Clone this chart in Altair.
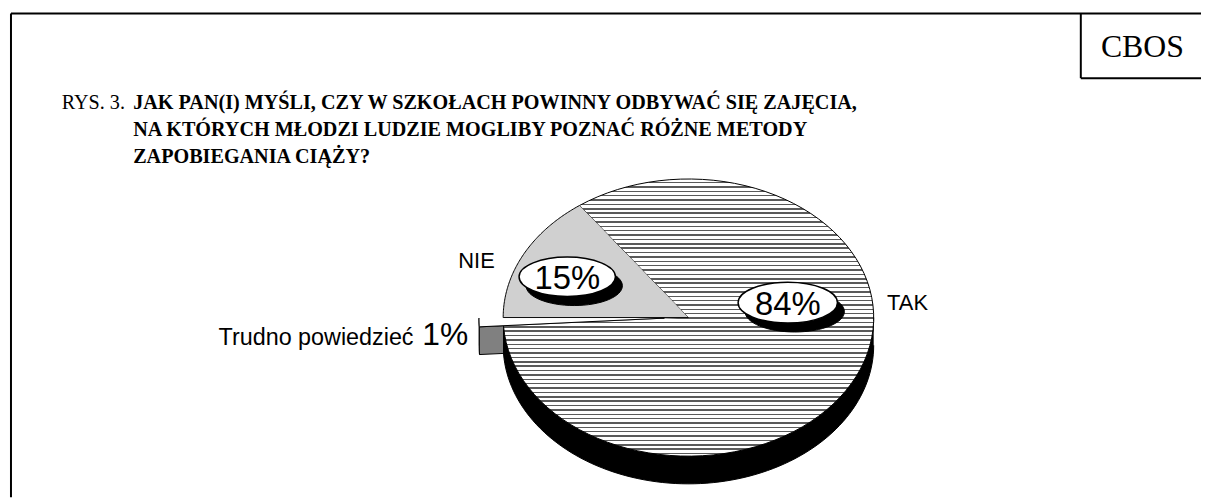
import altair as alt
import pandas as pd

# ---------------- data ----------------
categories = ["TAK", "Trudno powiedzieć", "NIE"]
values = [84, 1, 15]

title_prefix = "RYS. 3."
title_lines = [
    "JAK PAN(I) MYŚLI, CZY W SZKOŁACH POWINNY ODBYWAĆ SIĘ ZAJĘCIA,",
    "NA KTÓRYCH MŁODZI LUDZIE MOGLIBY POZNAĆ RÓŻNE METODY",
    "ZAPOBIEGANIA CIĄŻY?",
]
source_label = "CBOS"

df = pd.DataFrame({"kategoria": categories, "procent": values, "ord": list(range(len(values)))})
dummy = pd.DataFrame({"d": [0]})

# ---------------- layout / style ----------------
W, H = 1201, 491
CX, CY, RX, RY = 693 - 8, 318 - 8, 186.5, 139.5
START_DEG = -36
DEPTH = 0.2
EXPLODE = 0.13
N = 90

xs = alt.Scale(domain=[-1, 1], range=[CX - RX, CX + RX], nice=False, zero=False)
ys = alt.Scale(domain=[-1, 1], range=[CY + RY, CY - RY], nice=False, zero=False)

SERIF = "Liberation Serif"
SANS = "Liberation Sans"

# horizontal stripe hatch for TAK
period = 4.4 / (2 * RY)
dark = 1.5 / (2 * RY)
stops = []
o = 0.0
while o < 1:
    a = min(o + period - dark, 1.0)
    b = min(o + period, 1.0)
    stops += [
        {"offset": round(o, 5), "color": "#ffffff"},
        {"offset": round(a, 5), "color": "#ffffff"},
        {"offset": round(a, 5), "color": "#5a5a5a"},
        {"offset": round(b, 5), "color": "#5a5a5a"},
    ]
    o += period
stripes = alt.LinearGradient(gradient="linear", x1=0, y1=0, x2=0, y2=1, stops=stops)

# ---------------- geometry from data ----------------
base = (
    alt.Chart(df)
    .transform_window(cum="sum(procent)", sort=[alt.SortField("ord")], frame=[None, 0])
    .transform_joinaggregate(total="sum(procent)")
    .transform_calculate(
        a0=f"({START_DEG} + (datum.cum - datum.procent) / datum.total * 360) * PI / 180",
        a1=f"({START_DEG} + datum.cum / datum.total * 360) * PI / 180",
        ex=f"datum.ord == 1 ? {EXPLODE} : 0",
    )
    .transform_calculate(
        dx="datum.ex * sin((datum.a0 + datum.a1) / 2)",
        dy="datum.ex * cos((datum.a0 + datum.a1) / 2)",
    )
)

enc = dict(
    x=alt.X("px:Q", scale=xs, axis=None),
    y=alt.Y("py:Q", scale=ys, axis=None),
    order=alt.Order("step:Q"),
    detail=alt.Detail("kategoria:N"),
)

# top surfaces
top = (
    base.transform_calculate(step=f"sequence(-1, {N + 1})")
    .transform_flatten(["step"])
    .transform_calculate(t=f"datum.a0 + (datum.a1 - datum.a0) * max(datum.step, 0) / {N}")
    .transform_calculate(
        px="datum.dx + (datum.step < 0 ? 0 : sin(datum.t))",
        py="datum.dy + (datum.step < 0 ? 0 : cos(datum.t))",
    )
)

# cylinder side (front half only)
side = (
    base.transform_calculate(s0="max(datum.a0, PI / 2)", s1="min(datum.a1, 3 * PI / 2)")
    .transform_filter("datum.s1 > datum.s0")
    .transform_calculate(step=f"sequence(0, {2 * N + 2})")
    .transform_flatten(["step"])
    .transform_calculate(
        t=f"datum.step <= {N} ? datum.s0 + (datum.s1 - datum.s0) * datum.step / {N} "
          f": datum.s1 - (datum.s1 - datum.s0) * (datum.step - {N + 1}) / {N}"
    )
    .transform_calculate(
        px="datum.dx + sin(datum.t)",
        py=f"datum.dy + cos(datum.t) - (datum.step > {N} ? {DEPTH} : 0)",
    )
)

# radial cut face of the exploded slice
face = (
    base.transform_filter("datum.ex > 0")
    .transform_calculate(step="sequence(0, 4)")
    .transform_flatten(["step"])
    .transform_calculate(
        px="datum.dx + ((datum.step == 1 || datum.step == 2) ? sin(datum.a0) : 0)",
        py=f"datum.dy + ((datum.step == 1 || datum.step == 2) ? cos(datum.a0) : 0) - (datum.step >= 2 ? {DEPTH} : 0)",
    )
)

face_layer = face.mark_line(fill="#808080", stroke="black", strokeWidth=1).encode(**enc)
side_layer = side.mark_line(stroke="black", strokeWidth=1).encode(
    fill=alt.Fill("kategoria:N", scale=alt.Scale(domain=categories, range=["#000000", "#808080", "#000000"]), legend=None),
    **enc,
)
top_tak = top.transform_filter("datum.ord == 0").mark_line(fill=stripes, stroke="black", strokeWidth=1).encode(**enc)
top_nie = top.transform_filter("datum.ord == 2").mark_line(fill="#d0d0d0", stroke="black", strokeWidth=1).encode(**enc)
top_tru = top.transform_filter("datum.ord == 1").mark_line(fill="#ffffff", stroke="black", strokeWidth=1).encode(**enc)

# ---------------- labels ----------------
ELLIPSE = "M-1,0A1,0.41,0,1,1,1,0A1,0.41,0,1,1,-1,0Z"


def pct_text(idx):
    return alt.Chart(df).transform_filter(f"datum.ord == {idx}").transform_calculate(
        lab="format(datum.procent, 'd') + '%'"
    )


def bubble(idx, px, py, w):
    size = w * w
    shadow = alt.Chart(dummy).mark_point(
        shape=ELLIPSE, size=size, filled=True, fill="black", stroke="black", opacity=1,
        strokeWidth=1, xOffset=7, yOffset=9,
    ).encode(x=alt.value(px - 8), y=alt.value(py - 8))
    face_ = alt.Chart(dummy).mark_point(
        shape=ELLIPSE, size=size, filled=True, fill="white", stroke="black", opacity=1, strokeWidth=1.5,
    ).encode(x=alt.value(px - 8), y=alt.value(py - 8))
    txt = pct_text(idx).mark_text(
        font=SANS, fontSize=33, align="center", baseline="alphabetic", color="black"
    ).encode(x=alt.value(px - 8), y=alt.value(py - 8 + 12), text="lab:N")
    return [shadow, face_, txt]


def cat_label(idx, px, py, align, size=22):
    return alt.Chart(df).transform_filter(f"datum.ord == {idx}").mark_text(
        font=SANS, fontSize=size, align=align, baseline="alphabetic", color="black"
    ).encode(x=alt.value(px - 8), y=alt.value(py - 8), text="kategoria:N")


labels = []
labels += bubble(0, 793, 303, 100)
labels += bubble(2, 571, 277, 97)
labels.append(cat_label(0, 893, 310, "left"))
labels.append(cat_label(2, 498, 268, "right"))
labels.append(cat_label(1, 220, 346, "left", 23.5))
labels.append(
    pct_text(1).mark_text(font=SANS, fontSize=32, align="left", baseline="alphabetic", color="black")
    .encode(x=alt.value(425 - 8), y=alt.value(346 - 8), text="lab:N")
)

# ---------------- frame & title ----------------
def rule(x1, y1, x2, y2):
    return alt.Chart(dummy).mark_rule(color="black", strokeWidth=2).encode(
        x=alt.value(x1 - 8), x2=alt.value(x2 - 8), y=alt.value(y1 - 8), y2=alt.value(y2 - 8)
    )


frame = [
    rule(11, 12, 1209, 12),
    rule(11, 12, 11, 499),
    rule(1088, 12, 1088, 77),
    rule(1088, 77, 1209, 77),
]


def txt(s, px, py, font, size, weight="normal", align="left"):
    return alt.Chart(dummy).mark_text(
        text=s, font=font, fontSize=size, fontWeight=weight, align=align, baseline="alphabetic", color="black"
    ).encode(x=alt.value(px - 8), y=alt.value(py - 8))


texts = [
    txt(source_label, 1150, 56, SERIF, 32, align="center"),
    txt(title_prefix, 62, 108, SERIF, 20.3),
    txt(title_lines[0], 134, 108, SERIF, 20.3, "bold"),
    txt(title_lines[1], 134, 135, SERIF, 20.3, "bold"),
    txt(title_lines[2], 134, 162, SERIF, 20.3, "bold"),
]

chart = alt.layer(
    face_layer, side_layer, top_tak, top_nie, top_tru, *labels, *frame, *texts
).properties(width=W, height=H, padding=0, autosize="none", background="white").configure_view(stroke=None)

chart.save("out.html", embed_options={"renderer": "svg", "actions": False})
